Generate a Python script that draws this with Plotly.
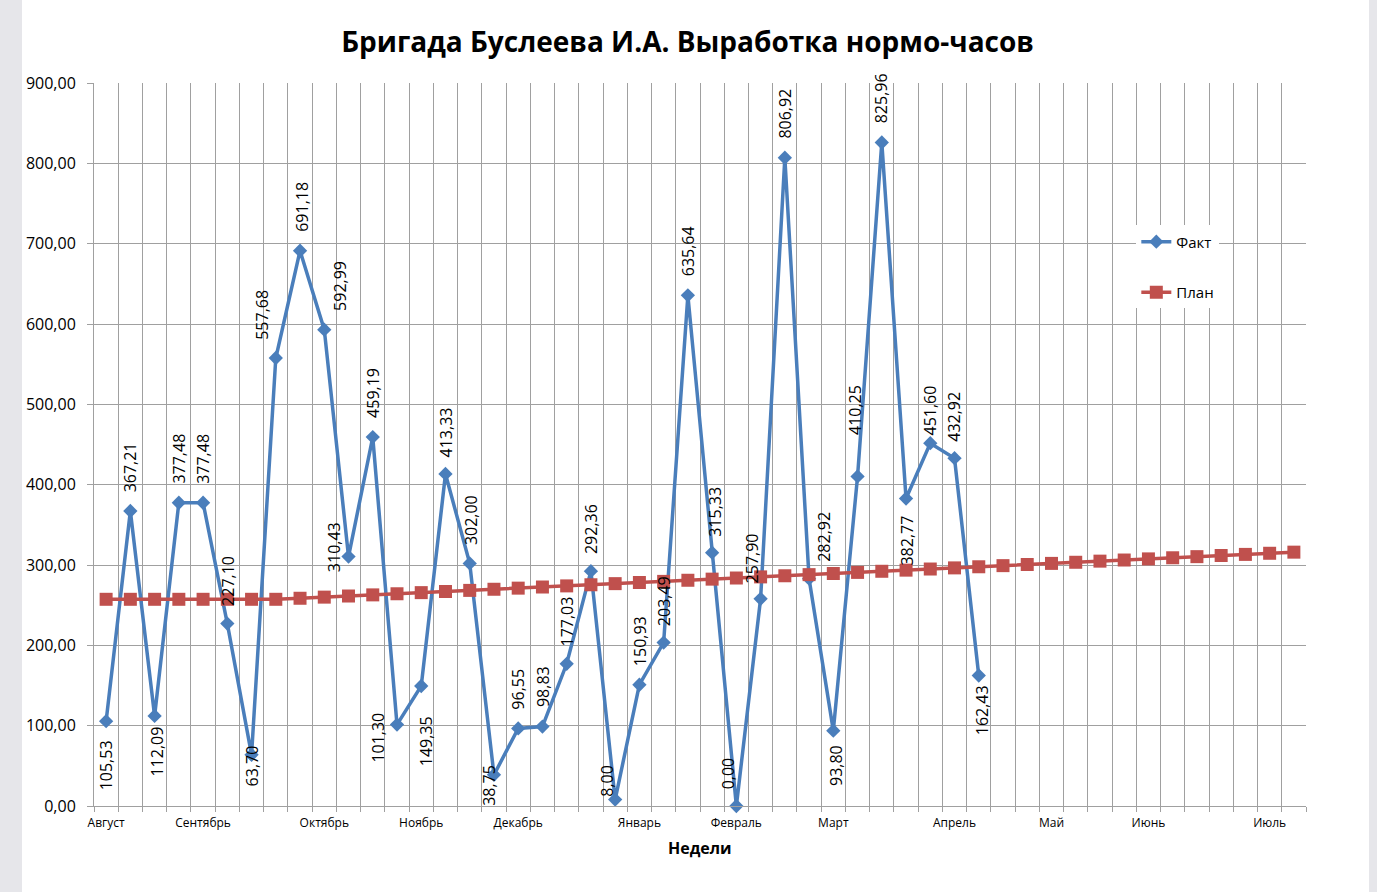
import plotly.graph_objects as go

# ---- data ----
fact = [105.53, 367.21, 112.09, 377.48, 377.48, 227.10, 63.70, 557.68, 691.18, 592.99,
        310.43, 459.19, 101.30, 149.35, 413.33, 302.00, 38.75, 96.55, 98.83, 177.03,
        292.36, 8.00, 150.93, 203.49, 635.64, 315.33, 0.00, 257.90, 806.92, 282.92,
        93.80, 410.25, 825.96, 382.77, 451.60, 432.92, 162.43]
plan = [257.3, 257.3, 257.3, 257.3, 257.3, 257.3, 257.3, 257.3, 258.6, 260.0,
        261.4, 262.8, 264.2, 265.6, 267.0, 268.4, 269.8, 271.2, 272.6, 274.0,
        275.4, 276.8, 278.2, 279.6, 281.0, 282.4, 283.8, 285.2, 286.6, 288.0,
        289.4, 290.8, 292.2, 293.6, 295.0, 296.4, 297.8, 299.2, 300.6, 302.0,
        303.4, 304.8, 306.2, 307.6, 309.0, 310.4, 311.8, 313.2, 314.6, 316.0]
months = ["Август", "Сентябрь", "Октябрь", "Ноябрь", "Декабрь", "Январь",
          "Февраль", "Март", "Апрель", "Май", "Июнь", "Июль"]
month_week = [0, 4, 9, 13, 17, 22, 26, 30, 35, 39, 43, 48]
y_ticks = [0, 100, 200, 300, 400, 500, 600, 700, 800, 900]

# ---- label offsets (pixels, dy positive = down) : style only ----
label_off = [(0, 44), (0, -44), (2, 36), (0, -44), (0, -44), (0, -43), (0, 11), (-14, -43),
             (2, -44), (15, -44), (-15, -9), (0, -44), (-19, 13), (5, 55), (0, -42), (2, -43),
             (-5, 10), (0, -39), (0, -40), (0, -42), (0, -42), (-9, -19), (0, -44), (0, -41),
             (0, -44), (3, -41), (-8, -33), (-9, -40), (0, -44), (15, -42), (2, 35), (-2, -66),
             (0, -44), (0, 42), (0, -33), (0, -41), (3, 35)]

FONT = "Open Sans"
BLUE = "#4A7EBB"
RED = "#C0504D"
GRID = "#a0a0a0"

weeks_f = list(range(len(fact)))
weeks_p = list(range(len(plan)))

fig = go.Figure()
fig.add_trace(go.Scatter(
    x=weeks_f, y=fact, name="Факт", mode="lines+markers",
    line=dict(color=BLUE, width=3.5),
    marker=dict(symbol="diamond", size=11, color=BLUE),
    legendgroup="f", cliponaxis=False))
fig.add_trace(go.Scatter(
    x=weeks_p, y=plan, name="План", mode="lines+markers",
    line=dict(color=RED, width=3.5),
    marker=dict(symbol="square", size=13, color=RED),
    legendgroup="p", cliponaxis=False))

for i, v in enumerate(fact):
    dx, dy = label_off[i]
    fig.add_annotation(x=i, y=v, text=f"{v:.2f}".replace(".", ","), textangle=-90,
                       showarrow=False, xshift=dx, yshift=-dy,
                       font=dict(family=FONT, size=16, color="#000"))

fig.add_annotation(x=0.5, y=-0.058, xref="paper", yref="paper", text="<b>Недели</b>",
                   showarrow=False, xanchor="center", yanchor="middle",
                   font=dict(family=FONT, size=16, color="#000"))

# grey page edges
fig.add_shape(type="rect", xref="paper", yref="paper", x0=-0.0776, x1=-0.0594,
              y0=-0.2, y1=1.2, fillcolor="#e6e6ea", line_width=0, layer="below")
fig.add_shape(type="rect", xref="paper", yref="paper", x0=1.052, x1=1.07,
              y0=-0.2, y1=1.2, fillcolor="#e6e6ea", line_width=0, layer="below")

fig.update_layout(
    width=1377, height=892,
    margin=dict(l=94, r=71, t=83, b=86),
    paper_bgcolor="white", plot_bgcolor="white",
    separators=", ",
    font=dict(family=FONT, color="#000"),
    title=dict(text="<b>Бригада Буслеева И.А. Выработка нормо-часов</b>",
               x=0.4993, xref="container", xanchor="center",
               y=1 - 42 / 892, yref="container", yanchor="middle",
               font=dict(family=FONT, size=28, color="#000")),
    showlegend=True,
    legend=dict(x=0.860, xanchor="left", y=0.803, yanchor="top",
                bgcolor="white", borderwidth=0, tracegroupgap=28,
                font=dict(family=FONT, size=15, color="#000")),
    xaxis=dict(range=[-0.5, 49.5], tickmode="array", tickvals=month_week, ticktext=months,
               showgrid=False, ticks="", tickfont=dict(family=FONT, size=12),
               ticklabelstandoff=6,
               showline=True, linecolor=GRID, linewidth=1, zeroline=False,
               minor=dict(tickmode="linear", tick0=-0.5, dtick=1, showgrid=True,
                          gridcolor=GRID, gridwidth=1, ticks="outside", ticklen=5,
                          tickcolor=GRID)),
    yaxis=dict(range=[0, 900], tickmode="array", tickvals=y_ticks, tickformat=".2f",
               showgrid=True, gridcolor=GRID, gridwidth=1, zeroline=False,
               showline=True, linecolor=GRID, linewidth=1,
               ticks="outside", ticklen=6, tickcolor=GRID, ticklabelstandoff=8,
               tickfont=dict(family=FONT, size=16)),
)

fig.write_html("out.html", post_script="document.body.style.margin='0';",
               config={"displayModeBar": False})
